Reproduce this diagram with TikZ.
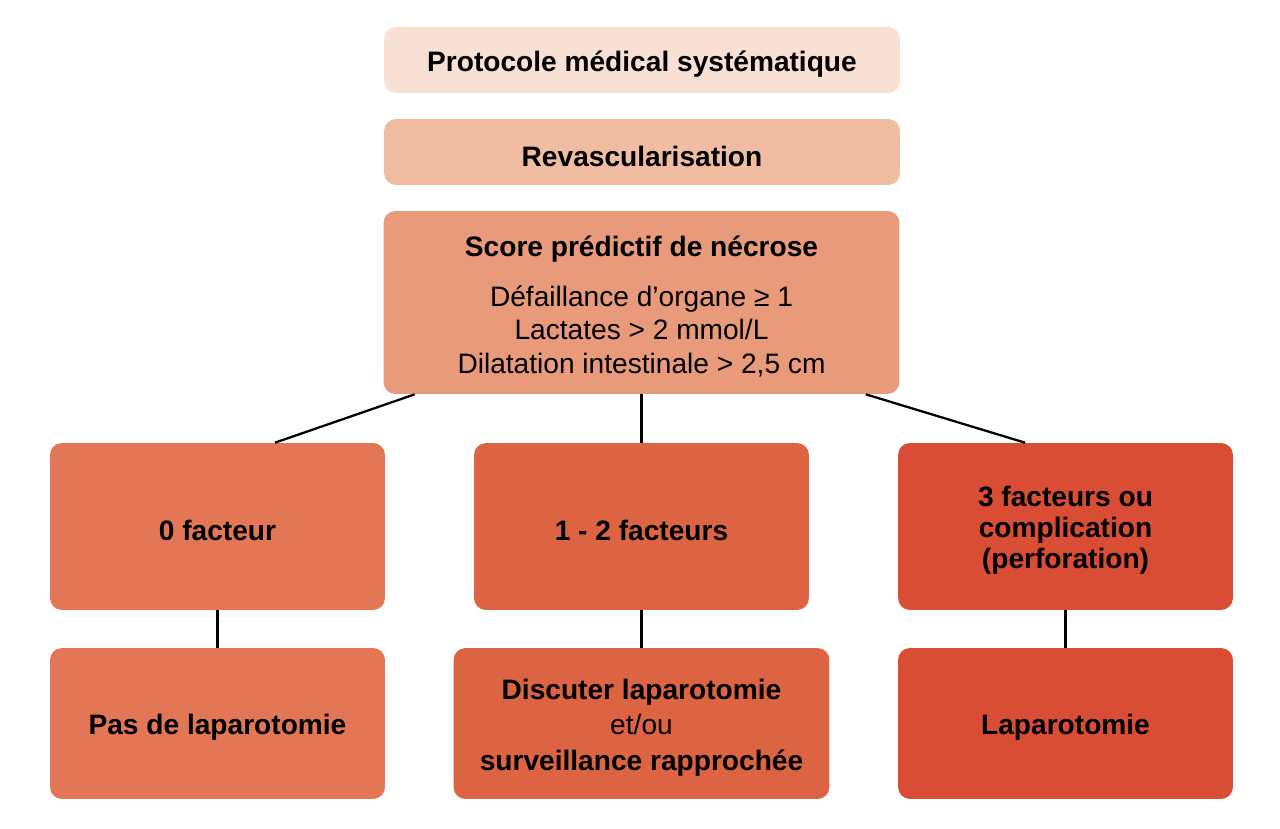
\documentclass[tikz,border=0pt]{standalone}
\usepackage{fontspec}
\setmainfont{Liberation Sans}
\usepackage{tikz}

\definecolor{protocol}{HTML}{F9E0D4}
\definecolor{revasc}{HTML}{F0BCA2}
\definecolor{scorebg}{HTML}{E89A7B}
\definecolor{nofact}{HTML}{E27655}
\definecolor{somefact}{HTML}{DC6443}
\definecolor{allfact}{HTML}{D84D33}

% taller first line, so the text sits a little lower in its box
\newcommand{\toppad}{\rule{0pt}{16.3pt}}

\tikzset{
  box/.style={rounded corners=0.24cm, align=center, inner sep=0pt,
    font=\fontsize{16}{17.6}\selectfont\bfseries},
  link/.style={line width=1.3pt, black}
}

\begin{document}
\begin{tikzpicture}[x=0.02cm,y=-0.02cm]
        \useasboundingbox (0,0) rectangle (1280,828);
        \node[box, fill=protocol, minimum width=10.32cm, minimum height=1.32cm] (protocol) at (642,60) {\toppad Protocole médical systématique};
        \node[box, fill=revasc, minimum width=10.32cm, minimum height=1.32cm] (revasc) at (642,152) {\toppad Revascularisation};
        \node[box, fill=scorebg, minimum width=10.32cm, minimum height=3.66cm] (score) at (641.5,302.5)
          {\toppad Score prédictif de nécrose\\[10.5pt]
           \mdseries Défaillance d’organe ≥ 1\\[1.4pt]
           \mdseries Lactates > 2 mmol/L\\[1.4pt]
           \mdseries Dilatation intestinale > 2,5 cm};
        \node[box, fill=nofact, minimum width=6.7cm, minimum height=3.34cm] (zero) at (217.5,526.5) {\toppad 0 facteur};
        \node[box, fill=somefact, minimum width=6.7cm, minimum height=3.34cm] (onetwo) at (641.5,526.5) {\toppad 1 - 2 facteurs};
        \node[box, fill=allfact, minimum width=6.7cm, minimum height=3.34cm] (three) at (1065.5,526.5) {\toppad 3 facteurs ou\\complication\\(perforation)};
        \node[box, fill=nofact, minimum width=6.7cm, minimum height=3.02cm] (nolap) at (217.5,723.5) {\toppad Pas de laparotomie};
        \node[box, fill=somefact, minimum width=7.52cm, minimum height=3.02cm] (discuss) at (641.5,723.5)
          {\toppad Discuter laparotomie\\[2.4pt] \mdseries et/ou\\[2.4pt] surveillance rapprochée};
        \node[box, fill=allfact, minimum width=6.7cm, minimum height=3.02cm] (lap) at (1065.5,723.5) {\toppad Laparotomie};
        \draw[link] ([xshift=0.63cm]score.south west) -- ([xshift=1.15cm]zero.north);
        \draw[link] (score.south) -- (onetwo.north);
        \draw[link] ([xshift=-0.68cm]score.south east) -- ([xshift=-0.81cm]three.north);
        \draw[link] (zero.south) -- (nolap.north);
        \draw[link] (onetwo.south) -- (discuss.north);
        \draw[link] (three.south) -- (lap.north);
        \end{tikzpicture}
\end{document}
